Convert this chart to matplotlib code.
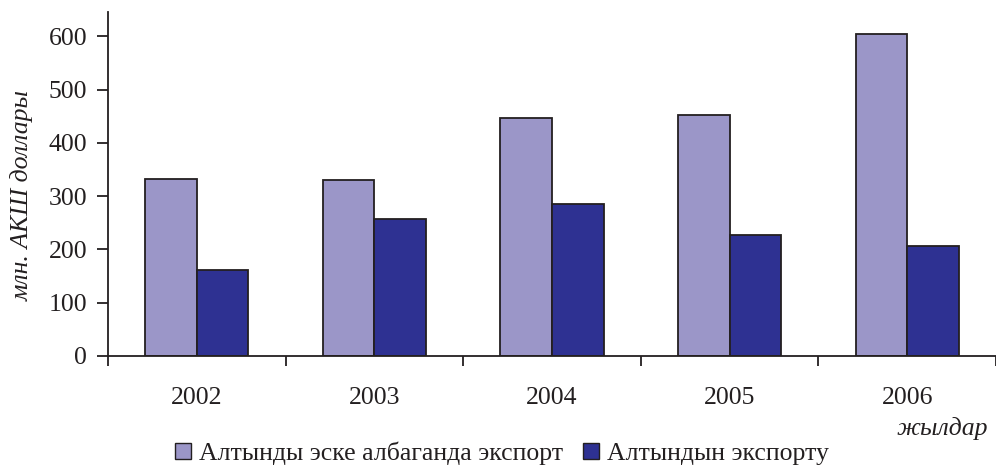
import numpy as np
from matplotlib import pyplot as plt
from matplotlib.patches import Patch

years = ['2002', '2003', '2004', '2005', '2006']
export_no_gold = [333, 330, 447, 453, 604]
gold_export = [162, 258, 285, 228, 206]
label_no_gold = 'Алтынды эске албаганда экспорт'
label_gold = 'Алтындын экспорту'

plt.rcParams['font.family'] = ['Liberation Serif', 'DejaVu Serif']
ink = '#231f20'
light = '#9b96c8'
dark = '#2e3192'

fig = plt.figure(figsize=(9.96, 4.68), dpi=100)
ax = fig.add_axes([108 / 996, 1 - 356 / 468, 1 - 108 / 996, 344 / 468])

x = np.arange(len(years))
w = 0.29
ax.bar(x - w / 2, export_no_gold, w, color=light, edgecolor=ink, linewidth=1.3)
ax.bar(x + w / 2, gold_export, w, color=dark, edgecolor=ink, linewidth=1.3)

ax.set_xlim(-0.5, 4.461)
ax.set_ylim(0, 646)
ax.set_yticks([0, 100, 200, 300, 400, 500, 600])

# ticks on category boundaries, labels in the middle
ax.set_xticks(np.arange(-0.5, 4.6, 1.0))
ax.set_xticklabels([])
ax.set_xticks(x, minor=True)
ax.set_xticklabels(years, minor=True)
ax.tick_params(axis='x', which='major', length=7, width=1.3, color=ink)
ax.tick_params(axis='x', which='minor', length=0, pad=22, labelsize=18.5, labelcolor=ink)
ax.tick_params(axis='y', length=8, width=1.3, color=ink, pad=7, labelsize=18.5, labelcolor=ink)

for s in ['top', 'right']:
    ax.spines[s].set_visible(False)
for s in ['left', 'bottom']:
    ax.spines[s].set_linewidth(1.3)
    ax.spines[s].set_color(ink)

fig.text(22 / 996, 1 - 195 / 468, 'млн. АКШ доллары', rotation=90, style='italic',
         fontsize=18.5, color=ink, ha='center', va='center')
fig.text(988 / 996, 1 - 429 / 468, 'жылдар', style='italic', fontsize=18.5,
         color=ink, ha='right', va='center')

handles = [Patch(facecolor=light, edgecolor=ink, linewidth=1.0),
           Patch(facecolor=dark, edgecolor=ink, linewidth=1.0)]
fig.legend(handles, [label_no_gold, label_gold], loc='lower center',
           bbox_to_anchor=(502 / 996, -0.043), ncol=2, frameon=False,
           fontsize=18.5, handlelength=0.62, handleheight=0.62,
           handletextpad=0.3, columnspacing=0.8, labelcolor=ink)

fig.savefig('out.png', dpi=100)
